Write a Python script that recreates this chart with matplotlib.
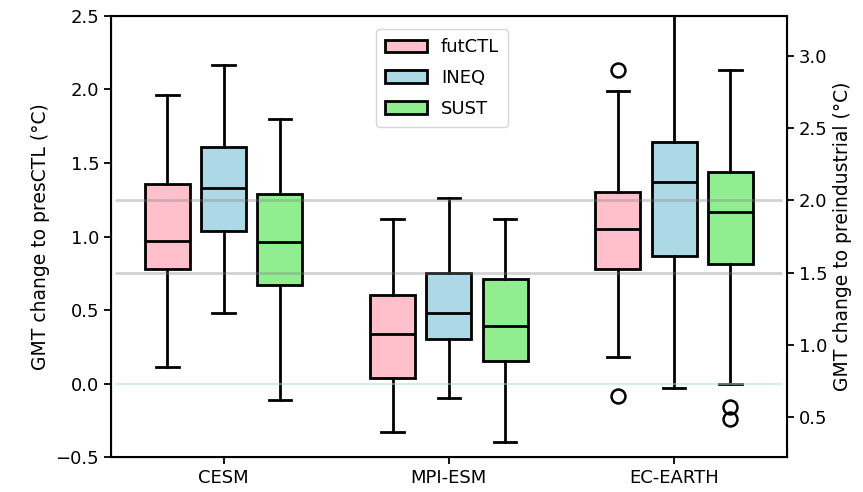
import numpy as np
import matplotlib
matplotlib.use('Agg')
from matplotlib import pyplot as plt
from matplotlib.patches import Patch

models = ['CESM', 'MPI-ESM', 'EC-EARTH']
scenarios = ['futCTL', 'INEQ', 'SUST']
colors = ['pink', 'lightblue', 'lightgreen']

# box stats: [low whisker, Q1, median, Q3, high whisker]
futctl = [[0.11, 0.78, 0.97, 1.36, 1.96],
          [-0.33, 0.04, 0.34, 0.60, 1.12],
          [0.18, 0.78, 1.05, 1.30, 1.99]]
ineq = [[0.48, 1.04, 1.33, 1.61, 2.17],
        [-0.10, 0.30, 0.48, 0.75, 1.26],
        [-0.03, 0.87, 1.37, 1.64, 2.65]]
sust = [[-0.11, 0.67, 0.96, 1.29, 1.80],
        [-0.40, 0.15, 0.39, 0.71, 1.12],
        [0.00, 0.81, 1.17, 1.44, 2.13]]
futctl_fliers = [[], [], [2.13, -0.085]]
ineq_fliers = [[], [], []]
sust_fliers = [[], [], [-0.16, -0.24]]

plt.rcParams['font.family'] = 'DejaVu Sans'
fig = plt.figure(figsize=(8.63, 4.92), dpi=100)
ax = fig.add_axes([0.1286, 0.0711, 0.7830, 0.8964])

x = np.arange(1, len(models) + 1)
shift = [-0.25, 0.0, 0.25]
data = [futctl, ineq, sust]
fliers = [futctl_fliers, ineq_fliers, sust_fliers]

for k in range(3):
    stats = []
    for i in range(len(models)):
        lo, q1, med, q3, hi = data[k][i]
        stats.append(dict(whislo=lo, q1=q1, med=med, q3=q3, whishi=hi,
                          fliers=fliers[k][i]))
    ax.bxp(stats, positions=x + shift[k], widths=0.2, patch_artist=True,
           boxprops=dict(facecolor=colors[k], edgecolor='black', linewidth=2),
           medianprops=dict(color='black', linewidth=2),
           whiskerprops=dict(color='black', linewidth=2),
           capprops=dict(color='black', linewidth=2),
           flierprops=dict(marker='o', markerfacecolor='none',
                           markeredgecolor='black', markersize=10,
                           markeredgewidth=1.8),
           manage_ticks=False)

# 1.5 and 2.0 degC above preindustrial, and presCTL level
ax.hlines([1.25, 0.75], 0.52, 3.48, color='gray', alpha=0.35, linewidth=2, zorder=5)
ax.hlines([0.0], 0.52, 3.48, color='lightblue', alpha=0.5, linewidth=1.5, zorder=5)

ax.set_xlim(0.5, 3.5)
ax.set_ylim(-0.5, 2.5)
ax.set_xticks(x)
ax.set_xticklabels(models)
ax.set_yticks(np.arange(-0.5, 2.51, 0.5))
ax.tick_params(labelsize=13, width=1.3, length=5)
ax.set_ylabel('GMT change to presCTL (°C)', fontsize=13.5)
for s in ax.spines.values():
    s.set_linewidth(1.5)

ax2 = ax.twinx()
ax2.set_ylim(0.22, 3.28)
ax2.set_yticks(np.arange(0.5, 3.01, 0.5))
ax2.tick_params(labelsize=13, width=1.3, length=5)
ax2.set_ylabel('GMT change to preindustrial (°C)', fontsize=13.5)

handles = [Patch(facecolor=c, edgecolor='black', linewidth=2) for c in colors]
ax.legend(handles, scenarios, loc='upper center', fontsize=13,
          bbox_to_anchor=(0.49, 0.99), handlelength=2.3, labelspacing=0.7,
          borderpad=0.5)

fig.savefig('out.png', dpi=100)
